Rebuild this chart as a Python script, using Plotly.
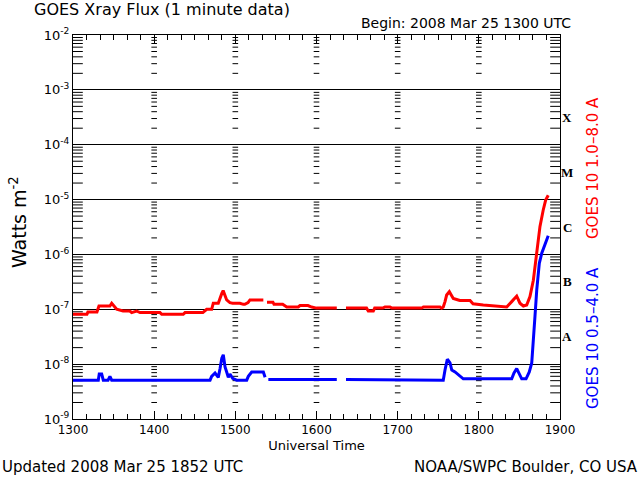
import plotly.graph_objects as go

# ---- data (minutes after 1300 UTC, flux in W m^-2) ----
long_t = [0, 10.3, 11, 17.7, 19.2, 27.3, 28.6, 32.3, 37, 42, 43.4, 47, 49.5, 64.3, 65.6, 81.5,
          82.8, 96, 98.8, 102.5, 103.7, 107.4, 110, 111, 113.6, 116, 118, 123.4, 125.9, 127,
          129.4, 130.8, 140.7, None, 143.4, 147.8, 148.6, 155, 158, 166.5, 167.8, 173.7, 176.4,
          180, 195, None, 201.8, 217, 218.3, 222, 223, 229, 230.6, 234.3, 235.6, 257.8, 259,
          271.3, 272.5, 273.7, 275, 276.2, 278.2, 281.1, 284.8, 286, 293.5, 295.7, 303.3, 320.6,
          324.3, 328, 330.4, 332.9, 335.4, 337.8, 340.3, 342.3, 344, 345.2, 347.6, 349.4, 351.3]
long_flux = [8.1e-8, 8.1e-8, 8.9e-8, 8.9e-8, 1.15e-7, 1.15e-7, 1.29e-7, 1.0e-7, 9.3e-8, 9.3e-8,
             8.7e-8, 9.3e-8, 8.7e-8, 8.7e-8, 8.1e-8, 8.1e-8, 8.7e-8, 8.7e-8, 1.0e-7, 1.0e-7,
             1.29e-7, 1.29e-7, 1.95e-7, 2.19e-7, 1.48e-7, 1.32e-7, 1.29e-7, 1.29e-7, 1.23e-7,
             1.23e-7, 1.32e-7, 1.48e-7, 1.48e-7, None, 1.35e-7, 1.35e-7, 1.23e-7, 1.23e-7,
             1.10e-7, 1.10e-7, 1.17e-7, 1.17e-7, 1.10e-7, 1.05e-7, 1.05e-7, None, 1.05e-7,
             1.05e-7, 9.3e-8, 9.3e-8, 1.05e-7, 1.05e-7, 1.10e-7, 1.10e-7, 1.05e-7, 1.05e-7,
             1.10e-7, 1.10e-7, 1.05e-7, 1.10e-7, 1.38e-7, 1.82e-7, 2.09e-7, 1.58e-7, 1.48e-7,
             1.45e-7, 1.45e-7, 1.26e-7, 1.20e-7, 1.10e-7, 1.38e-7, 1.74e-7, 1.29e-7, 1.15e-7,
             1.20e-7, 1.70e-7, 3.39e-7, 9.1e-7, 1.82e-6, 3.24e-6, 6.46e-6, 9.77e-6, 1.2e-5]

short_t = [0, 18.7, 19.4, 21.2, 22.4, 25.9, 27.3, 28.6, 101.3, 102.5, 105, 107.4, 108.7, 110,
           111.1, 112.4, 113.6, 114.8, 116, 118, 121, 128.4, 129.6, 132.1, 140.7, 142, None,
           144.4, 195, None, 201.8, 273.7, 275, 276.7, 278.7, 280, 282.4, 286, 288.5, 324.3,
           326, 328, 330, 331.7, 334.9, 337.3, 339.1, 340.3, 341.5, 342.8, 344.7, 346.5, 348.2,
           350.2, 351.3]
short_flux = [5.1e-9, 5.1e-9, 6.6e-9, 6.6e-9, 5.1e-9, 5.1e-9, 6.0e-9, 5.1e-9, 5.1e-9, 6.0e-9,
              6.9e-9, 5.75e-9, 8.3e-9, 1.29e-8, 1.48e-8, 8.9e-9, 7.2e-9, 5.75e-9, 6.6e-9,
              5.5e-9, 5.1e-9, 5.1e-9, 6.0e-9, 7.2e-9, 7.2e-9, 5.75e-9, None, 5.25e-9, 5.25e-9,
              None, 5.25e-9, 5.1e-9, 7.8e-9, 1.23e-8, 1.05e-8, 7.8e-9, 7.2e-9, 6.0e-9, 5.4e-9,
              5.4e-9, 6.9e-9, 8.3e-9, 6.3e-9, 5.4e-9, 5.4e-9, 7.2e-9, 1.05e-8, 2.4e-8, 7.4e-8,
              2.24e-7, 6.9e-7, 1.05e-6, 1.38e-6, 1.95e-6, 2.19e-6]

hour_ticks = [0, 60, 120, 180, 240, 300, 360]
hour_labels = ["1300", "1400", "1500", "1600", "1700", "1800", "1900"]
decades = [-9, -8, -7, -6, -5, -4, -3, -2]
class_letters = ["A", "B", "C", "M", "X"]
class_pos = [-7.5, -6.5, -5.5, -4.5, -3.5]

FONT = "DejaVu Sans"

# minor log tick values
minor_vals = [m * 10.0 ** d for d in decades[:-1] for m in range(2, 10)]

fig = go.Figure()

# tick columns: interior hours (short centred dashes)
col_x, col_y = [], []
for hx in hour_ticks[1:-1]:
    for v in minor_vals:
        col_x.append(hx)
        col_y.append(v)
fig.add_trace(go.Scatter(x=col_x, y=col_y, mode="markers", hoverinfo="skip",
                         marker=dict(symbol="line-ew", size=4, line=dict(width=1, color="black")),
                         showlegend=False))
# edge columns (clipped to half -> inside ticks)
edge_x, edge_y = [], []
for hx in (hour_ticks[0], hour_ticks[-1]):
    for v in minor_vals:
        edge_x.append(hx)
        edge_y.append(v)
fig.add_trace(go.Scatter(x=edge_x, y=edge_y, mode="markers", hoverinfo="skip", cliponaxis=True,
                         marker=dict(symbol="line-ew", size=14, line=dict(width=1, color="black")),
                         showlegend=False))

fig.add_trace(go.Scatter(x=long_t, y=long_flux, mode="lines", connectgaps=False,
                         line=dict(color="#ff0000", width=3), showlegend=False))
fig.add_trace(go.Scatter(x=short_t, y=short_flux, mode="lines", connectgaps=False,
                         line=dict(color="#0000ff", width=3), showlegend=False))

fig.update_layout(
    width=640, height=480,
    margin=dict(l=73, r=80, t=35, b=61),
    paper_bgcolor="white", plot_bgcolor="white",
    font=dict(family=FONT, color="black", size=13),
    xaxis=dict(range=[0, 360], tickmode="array", tickvals=hour_ticks, ticktext=hour_labels,
               ticks="inside", ticklen=8, tickcolor="black", showline=True, linecolor="black",
               linewidth=1, mirror="ticks", showgrid=False, zeroline=False,
               tickfont=dict(size=12),
               minor=dict(ticks="inside", ticklen=5, dtick=10, tick0=0, tickcolor="black",
                          showgrid=False),
               title=dict(text="Universal Time", font=dict(size=13), standoff=4)),
    yaxis=dict(type="log", range=[-9, -2], tickmode="array",
               tickvals=[10.0 ** d for d in decades],
               ticktext=["10<sup>%d</sup>" % d for d in decades],
               ticks="inside", ticklen=8, tickcolor="black", showline=True, linecolor="black",
               linewidth=1, mirror="ticks", showgrid=True, gridcolor="black", gridwidth=1,
               zeroline=False, tickfont=dict(size=13)),
)

def px(xp):
    return (xp - 73) / 487.0

def py(yp):
    return (419 - yp) / 384.0

anns = [
    dict(text="GOES Xray Flux (1 minute data)", x=px(32), y=py(10), xanchor="left",
         yanchor="middle", font=dict(size=16)),
    dict(text="Begin: 2008 Mar 25 1300 UTC", x=px(573), y=py(23), xanchor="right",
         yanchor="middle", font=dict(size=14)),
    dict(text="Updated 2008 Mar 25 1852 UTC", x=px(0), y=py(467), xanchor="left",
         yanchor="middle", font=dict(size=15)),
    dict(text="NOAA/SWPC Boulder, CO USA", x=px(640), y=py(467), xanchor="right",
         yanchor="middle", font=dict(size=15)),
    dict(text="Watts m<sup>-2</sup>", x=px(18), y=py(222), textangle=-90, xanchor="center",
         yanchor="middle", font=dict(size=19)),
    dict(text="GOES 10 1.0\u20138.0 A", x=px(593), y=py(168), textangle=-90,
         xanchor="center", yanchor="middle", font=dict(size=15, color="#ff0000")),
    dict(text="GOES 10 0.5\u20134.0 A", x=px(593), y=py(338), textangle=-90,
         xanchor="center", yanchor="middle", font=dict(size=15, color="#0000ff")),
]
for a in anns:
    a.update(xref="paper", yref="paper", showarrow=False)
    fig.add_annotation(**a)

for letter, pos in zip(class_letters, class_pos):
    fig.add_annotation(text="<b>%s</b>" % letter, xref="paper", x=1.0, xshift=7,
                       yref="y", y=pos, xanchor="center", yanchor="middle", showarrow=False,
                       font=dict(family="Liberation Serif", size=13, color="black"))

fig.write_html("out.html", config={"displayModeBar": False},
               post_script="document.body.style.margin='0px';document.body.style.overflow='hidden';")
